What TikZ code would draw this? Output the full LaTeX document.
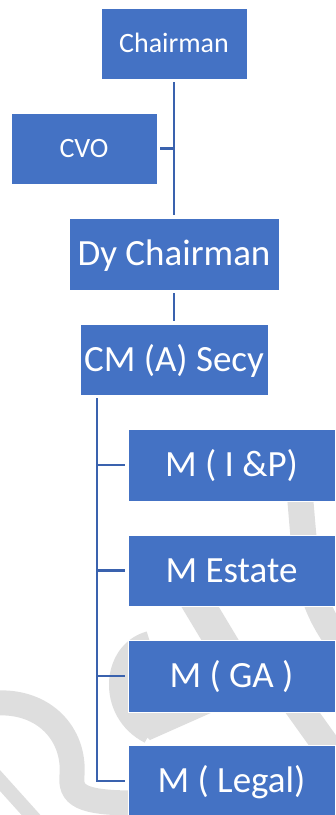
\documentclass[tikz,border=0pt]{standalone}
\usepackage{fontspec}
\setmainfont{Carlito}
\definecolor{boxblue}{HTML}{4472C4}
\definecolor{linkblue}{HTML}{3A62AE}
\definecolor{wmgray}{HTML}{DEDEDE}
\begin{document}
\begin{tikzpicture}[x=1pt,y=-1pt,
  unit/.style={draw=white, line width=0.8pt, fill=boxblue, text=white,
    inner sep=0pt, outer sep=0pt},
  smallbox/.style={unit, font=\fontsize{28}{30}\selectfont,
    text height=21pt, text depth=3pt},
  largebox/.style={unit, font=\fontsize{37}{40}\selectfont,
    text height=27.8pt, text depth=4pt},
  link/.style={draw=linkblue, line width=2.4pt},
  wm/.style={draw=wmgray, line width=26pt}]
\useasboundingbox (0,0) rectangle (336,815);

% faint background watermark strokes
\begin{scope}
  \clip (0,0) rectangle (336,815);
  \draw[wm] (299,485) .. controls (306,560) and (304,600) .. (345,650);
  \draw[wm, line width=32pt] (190,590) -- (232,660);
  \draw[wm, line width=28pt] (290,695) -- (345,772);
  \draw[wm, line width=22pt] (150,642) .. controls (112,652) and (108,712) .. (150,733);
  \fill[wmgray] (118,712) -- (150,740) -- (213,712) -- (213,700) -- (118,700) -- cycle;
  \draw[wm, line width=25pt] (-5,703) .. controls (45,700) and (75,735) .. (72,775)
    .. controls (70,795) and (80,803) .. (135,803);
  \draw[wm, line width=14pt] (-5,775) -- (40,825);
\end{scope}

% boxes
\node[smallbox, minimum width=146pt, minimum height=71pt] (chair) at (174,43.5) {Chairman};
\node[smallbox, minimum width=146pt, minimum height=71pt] (cvo) at (84,148.5) {CVO};
\node[largebox, minimum width=210pt, minimum height=72pt] (dy) at (174,254) {Dy Chairman};
\node[largebox, minimum width=188pt, minimum height=71pt] (cm) at (174,359.5) {CM (A) Secy};
\node[largebox, minimum width=207pt, minimum height=72pt] (mip) at (231.5,465) {M ( I \&P)};
\node[largebox, minimum width=207pt, minimum height=71pt] (mest) at (231.5,570.5) {M Estate};
\node[largebox, minimum width=207pt, minimum height=72pt] (mga) at (231.5,676) {M ( GA )};
\node[largebox, minimum width=207pt, minimum height=72pt] (mleg) at (231.5,781) {M ( Legal)};

% connectors
\draw[link] ([yshift=-3pt]chair.south) -- ([yshift=3pt]dy.north);
\draw[link] ([xshift=3pt]cvo.east) -- (cvo.east -| chair.south);
\draw[link] ([yshift=-3pt]dy.south) -- ([yshift=3pt]cm.north);
\coordinate (spine) at ([xshift=17pt,yshift=-3pt]cm.south west);
\draw[link] (spine) |- ([xshift=-3pt]mleg.west);
\foreach \n in {mip,mest,mga}
  \draw[link] (spine |- \n.west) -- ([xshift=-3pt]\n.west);
\end{tikzpicture}
\end{document}
